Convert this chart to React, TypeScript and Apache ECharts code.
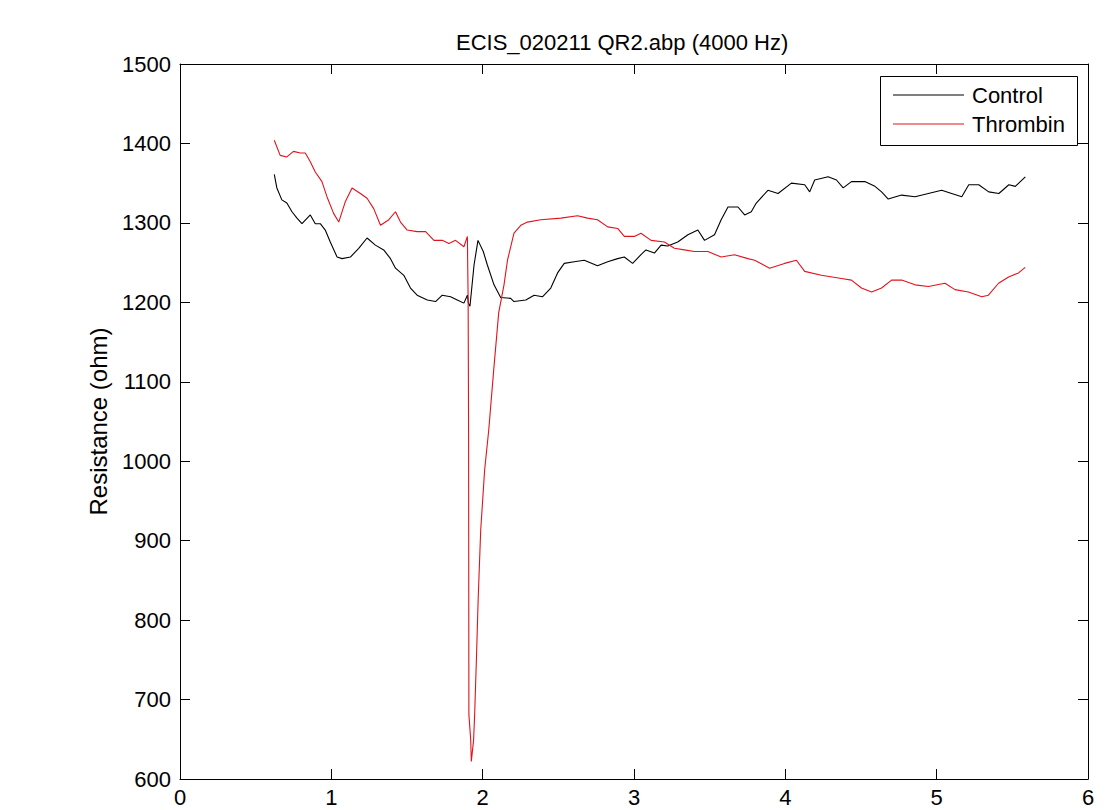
import React, { useEffect, useRef } from "react";
import * as echarts from "echarts";

const titleText = "ECIS_020211 QR2.abp (4000 Hz)";
const yAxisName = "Resistance (ohm)";
const seriesNames = ["Control", "Thrombin"];
const seriesColors = ["#000000", "#e0141c"];

const controlX = [0.623,0.64,0.673,0.706,0.74,0.773,0.806,0.861,0.894,0.927,0.96,0.993,1.038,1.071,1.126,1.181,1.236,1.291,1.346,1.391,1.424,1.479,1.523,1.567,1.634,1.689,1.733,1.788,1.832,1.876,1.899,1.906,1.916,1.943,1.969,2.004,2.031,2.075,2.119,2.185,2.207,2.285,2.34,2.395,2.45,2.495,2.539,2.605,2.671,2.759,2.826,2.892,2.936,2.991,3.046,3.079,3.135,3.179,3.223,3.289,3.356,3.422,3.466,3.532,3.576,3.621,3.687,3.731,3.775,3.808,3.885,3.952,4.04,4.128,4.161,4.194,4.283,4.338,4.382,4.437,4.525,4.592,4.636,4.68,4.768,4.857,4.945,5.033,5.099,5.166,5.212,5.278,5.344,5.411,5.477,5.52,5.586];
const controlY = [1361,1344,1329,1325,1314,1306,1299,1310,1299,1299,1291,1276,1257,1255,1257,1268,1281,1272,1266,1255,1243,1234,1218,1209,1203,1201,1209,1207,1203,1199,1209,1199,1195,1247,1278,1264,1247,1222,1206,1205,1201,1203,1209,1207,1218,1237,1249,1251,1253,1246,1251,1255,1257,1249,1260,1266,1262,1272,1271,1276,1285,1291,1278,1285,1304,1320,1320,1310,1314,1325,1341,1337,1350,1348,1339,1354,1358,1354,1344,1352,1352,1346,1339,1330,1335,1333,1337,1341,1337,1333,1348,1348,1339,1337,1348,1346,1358];

const thrombinX = [0.623,0.662,0.706,0.75,0.795,0.828,0.861,0.894,0.938,0.971,1.015,1.049,1.093,1.137,1.192,1.236,1.28,1.325,1.38,1.424,1.457,1.501,1.567,1.623,1.678,1.733,1.777,1.821,1.876,1.899,1.904,1.907,1.909,1.921,1.925,1.94,1.947,1.96,1.97,1.987,2.013,2.04,2.073,2.106,2.141,2.164,2.207,2.252,2.296,2.384,2.517,2.627,2.693,2.759,2.826,2.892,2.936,3.002,3.046,3.113,3.201,3.267,3.333,3.399,3.488,3.576,3.664,3.753,3.797,3.896,3.995,4.073,4.128,4.238,4.371,4.437,4.503,4.57,4.636,4.702,4.768,4.857,4.945,5.055,5.121,5.21,5.298,5.342,5.409,5.475,5.541,5.585];
const thrombinY = [1404,1385,1383,1390,1388,1388,1377,1364,1352,1333,1312,1301,1327,1344,1337,1331,1318,1297,1304,1314,1301,1291,1289,1289,1278,1278,1274,1278,1270,1283,1203,1030,681,649,622,649,681,759,825,913,989,1039,1115,1187,1222,1253,1287,1297,1301,1304,1306,1309,1306,1304,1295,1293,1283,1283,1287,1278,1276,1268,1266,1264,1264,1257,1260,1255,1253,1243,1249,1253,1239,1234,1230,1228,1218,1213,1218,1228,1228,1222,1220,1224,1216,1213,1207,1209,1224,1232,1237,1244];

const xMin = 0, xMax = 6, xStep = 1;
const yMin = 600, yMax = 1500, yStep = 100;

const FONT = "'Liberation Sans', Arial, sans-serif";
const FS = 22;

export default function App() {
  const ref = useRef<HTMLDivElement>(null);
  useEffect(() => {
    if (!ref.current) return;
    const chart = echarts.init(ref.current, null, { renderer: "svg" });
    const axisLine = { show: true, onZero: false, lineStyle: { color: "#000", width: 1 } };
    const axisTick = { show: true, inside: true, length: 10, lineStyle: { color: "#000", width: 1 } };
    const label = { color: "#000", fontSize: FS, fontFamily: FONT, formatter: (v: number) => String(v) };

    // legend box (MATLAB style) drawn as graphics
    const legendLeft = 880, legendTop = 76, legendW = 197, legendH = 69;
    const rowY = [95, 124];
    const legendGraphics: any[] = [
      {
        type: "rect", left: legendLeft, top: legendTop, z: 100,
        shape: { width: legendW, height: legendH },
        style: { fill: "#fff", stroke: "#000", lineWidth: 1 },
      },
    ];
    seriesNames.forEach((name, i) => {
      legendGraphics.push({
        type: "line", z: 101,
        shape: { x1: 893, y1: rowY[i], x2: 964, y2: rowY[i] },
        style: { stroke: seriesColors[i], lineWidth: 1.2 },
      });
      legendGraphics.push({
        type: "text", z: 101, x: 972, y: rowY[i],
        style: { text: name, fill: "#000", font: `${FS}px ${FONT}`, textVerticalAlign: "middle", verticalAlign: "middle" },
      });
    });

    chart.setOption({
      animation: false,
      backgroundColor: "#fff",
      textStyle: { fontFamily: FONT },
      title: {
        text: titleText,
        left: 456,
        top: 31,
        padding: 0,
        textStyle: { fontSize: FS, fontWeight: "normal", color: "#000", fontFamily: FONT },
      },
      graphic: legendGraphics,
      grid: { left: 180, right: 32, top: 64, bottom: 31, containLabel: false },
      xAxis: [
        {
          type: "value", min: xMin, max: xMax, interval: xStep, position: "bottom",
          axisLine, axisTick, splitLine: { show: false },
          axisLabel: { ...label, margin: 7 },
        },
        {
          type: "value", min: xMin, max: xMax, interval: xStep, position: "top",
          axisLine, axisTick, splitLine: { show: false }, axisLabel: { show: false },
        },
      ],
      yAxis: [
        {
          type: "value", min: yMin, max: yMax, interval: yStep, position: "left",
          axisLine, axisTick, splitLine: { show: false },
          axisLabel: { ...label, margin: 9 },
          name: yAxisName, nameLocation: "middle", nameGap: 70, nameRotate: 90,
          nameTextStyle: { fontSize: 24, color: "#000", fontFamily: FONT },
        },
        {
          type: "value", min: yMin, max: yMax, interval: yStep, position: "right",
          axisLine, axisTick, splitLine: { show: false }, axisLabel: { show: false },
        },
      ],
      series: [
        {
          name: seriesNames[0], type: "line", xAxisIndex: 0, yAxisIndex: 0,
          symbol: "none", lineStyle: { color: seriesColors[0], width: 1.1 }, itemStyle: { color: seriesColors[0] },
          data: controlX.map((x, i) => [x, controlY[i]]),
        },
        {
          name: seriesNames[1], type: "line", xAxisIndex: 0, yAxisIndex: 0,
          symbol: "none", lineStyle: { color: seriesColors[1], width: 1.1 }, itemStyle: { color: seriesColors[1] },
          data: thrombinX.map((x, i) => [x, thrombinY[i]]),
        },
      ],
    });
    return () => chart.dispose();
  }, []);
  return (
    <div
      ref={ref}
      style={{ position: "absolute", left: 0, top: 0, width: 1120, height: 810, background: "#fff" }}
    />
  );
}
